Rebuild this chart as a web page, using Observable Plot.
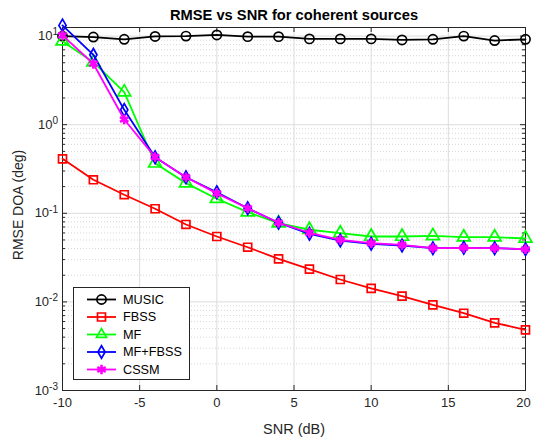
<!DOCTYPE html>
<html><head><meta charset="utf-8">
<script src="https://cdn.jsdelivr.net/npm/d3@7"></script>
<script src="https://cdn.jsdelivr.net/npm/@observablehq/plot@0.6"></script>
<style>body{margin:0;background:#fff;font-family:"Liberation Sans",Arial,sans-serif}</style>
</head><body><div id="chart"></div>
<script>
const snr = [-10,-8,-6,-4,-2,0,2,4,6,8,10,12,14,16,18,20];
const music = [10.0,9.75,9.2,9.9,10.0,10.3,9.85,9.85,9.3,9.3,9.3,9.05,9.2,10.0,8.9,9.2];
const fbss  = [0.412,0.239,0.162,0.1125,0.0748,0.0547,0.0414,0.0306,0.0234,0.0179,0.0142,0.0116,0.00927,0.00745,0.00581,0.00484];
const mf    = [8.75,5.07,2.33,0.367,0.219,0.146,0.103,0.0773,0.0652,0.0596,0.0547,0.0547,0.0557,0.0537,0.0537,0.052];
const mffbss= [13.2,6.15,1.47,0.43,0.255,0.173,0.114,0.0782,0.0587,0.0493,0.0453,0.0433,0.0404,0.0408,0.0404,0.0393];
const cssm  = [10.2,4.87,1.145,0.43,0.255,0.168,0.114,0.0782,0.0603,0.0502,0.046,0.044,0.0404,0.0408,0.0404,0.0393];

const seriesNames = ["MUSIC","FBSS","MF","MF+FBSS","CSSM"];
const seriesValues = [music, fbss, mf, mffbss, cssm];
const seriesColors = ["#000000","#ff0000","#00ff00","#0000ff","#ff00ff"];
const seriesSymbols = ["circle","square","triangle","diamond","asterisk"];
const seriesR = [4.6,4.5,4.8,3.8,4.6];

const xTicks = [-10,-5,0,5,10,15,20];
const yTicks = [1e-3,1e-2,1e-1,1,10];
const yTickExponents = ["-3","-2","-1","0","1"];
const titleText = "RMSE vs SNR for coherent sources";
const xLabel = "SNR (dB)";
const yLabel = "RMSE DOA (deg)";

const W = 533, H = 439, mL = 62, mR = 8, mT = 27, mB = 49;
const pW = W - mL - mR, pH = H - mT - mB;

const minorTicks = [];
for (const d of [1e-3,1e-2,1e-1,1]) for (let k = 2; k <= 9; k++) minorTicks.push(+(d*k).toPrecision(3));

const rows = [];
seriesNames.forEach((s, j) => snr.forEach((x, i) => rows.push({series: s, snr: x, value: seriesValues[j][i]})));

const axisColor = "#262626";
const font = "Liberation Sans, Arial, sans-serif";
const lineW = 1.8, markW = 1.7, starW = 2.6;

function yTickLabelMark(index, scales) {
  const g = d3.create("svg:g").attr("font-family", font).attr("fill", axisColor);
  yTicks.forEach((v, i) => {
    const t = g.append("text").attr("x", mL - 4).attr("y", scales.y(v))
      .attr("text-anchor", "end").attr("font-size", 13);
    t.append("tspan").attr("dy", "0.35em").text("10");
    t.append("tspan").attr("dy", -4.8).attr("font-size", 10).text(yTickExponents[i]);
  });
  return g.node();
}

function legendMark() {
  const g = d3.create("svg:g");
  const x0 = 73, y0 = 287, w = 116, h = 92, rowH = 17.5, first = 299.5;
  g.append("rect").attr("x", x0 + 0.5).attr("y", y0 + 0.5).attr("width", w).attr("height", h)
    .attr("fill", "#fff").attr("stroke", axisColor).attr("stroke-width", 1);
  const symMap = {circle: d3.symbolCircle, square: d3.symbolSquare, triangle: d3.symbolTriangle2, diamond: d3.symbolDiamond, asterisk: d3.symbolAsterisk};
  seriesNames.forEach((s, j) => {
    const yy = first + j * rowH;
    g.append("line").attr("x1", 87).attr("x2", 116).attr("y1", yy).attr("y2", yy)
      .attr("stroke", seriesColors[j]).attr("stroke-width", lineW);
    const r = seriesR[j];
    g.append("path").attr("d", d3.symbol(symMap[seriesSymbols[j]], r * r * Math.PI)())
      .attr("transform", `translate(101.5,${yy})`)
      .attr("fill", "none").attr("stroke", seriesColors[j])
      .attr("stroke-width", seriesSymbols[j] === "asterisk" ? starW : markW);
    g.append("text").attr("x", 123).attr("y", yy).attr("dy", "0.35em").attr("text-anchor", "start")
      .attr("font-size", 12.7).attr("font-family", font).attr("fill", "#000").text(s);
  });
  return g.node();
}

const marks = [
  Plot.ruleY(minorTicks, {stroke: "#c4c4c4", strokeDasharray: "1,2", strokeWidth: 0.7}),
  Plot.ruleY(yTicks.slice(1), {stroke: "#dcdcdc", strokeWidth: 1}),
  Plot.ruleX(xTicks.slice(1, -1), {stroke: "#dcdcdc", strokeWidth: 1}),
  Plot.ruleY(yTicks, {stroke: axisColor, insetRight: pW - 5}),
  Plot.ruleY(yTicks, {stroke: axisColor, insetLeft: pW - 5}),
  Plot.ruleY(minorTicks, {stroke: axisColor, insetRight: pW - 3}),
  Plot.ruleY(minorTicks, {stroke: axisColor, insetLeft: pW - 3}),
  Plot.ruleX(xTicks, {stroke: axisColor, insetTop: pH - 5}),
  Plot.ruleX(xTicks, {stroke: axisColor, insetBottom: pH - 5}),
  Plot.frame({stroke: axisColor, strokeWidth: 1}),
  yTickLabelMark,
  Plot.text(xTicks.slice(0, -1), {x: d => d, frameAnchor: "bottom", lineAnchor: "middle", dy: 12, fontSize: 13, fill: axisColor}),
  Plot.text(xTicks.slice(-1), {x: d => d, frameAnchor: "bottom", lineAnchor: "middle", dy: 12, dx: -2, fontSize: 13, fill: axisColor}),
];
seriesNames.forEach((s, j) => {
  const data = rows.filter(d => d.series === s);
  marks.push(Plot.line(data, {x: "snr", y: "value", stroke: seriesColors[j], strokeWidth: lineW}));
  marks.push(Plot.dot(data, {x: "snr", y: "value", stroke: seriesColors[j], fill: "none", symbol: seriesSymbols[j],
    r: seriesR[j], strokeWidth: seriesSymbols[j] === "asterisk" ? starW : markW}));
});
marks.push(
  Plot.text([titleText], {frameAnchor: "top", lineAnchor: "middle", dy: -12, fontWeight: "bold", fontSize: 14.7, fill: "#000"}),
  Plot.text([xLabel], {frameAnchor: "bottom", lineAnchor: "middle", dy: 39, fontSize: 14.5, fill: axisColor}),
  Plot.text([yLabel], {frameAnchor: "left", lineAnchor: "middle", dx: -44, dy: -4, rotate: -90, textAnchor: "middle", fontSize: 14, fill: axisColor}),
  legendMark
);

const chart = Plot.plot({
  width: W, height: H,
  marginLeft: mL, marginRight: mR, marginTop: mT, marginBottom: mB,
  style: {fontFamily: font, background: "#fff", overflow: "visible"},
  x: {domain: [-10, 20], axis: null},
  y: {type: "log", domain: [0.001, 12.5], axis: null},
  marks
});
document.getElementById("chart").appendChild(chart);
</script>
</body></html>
